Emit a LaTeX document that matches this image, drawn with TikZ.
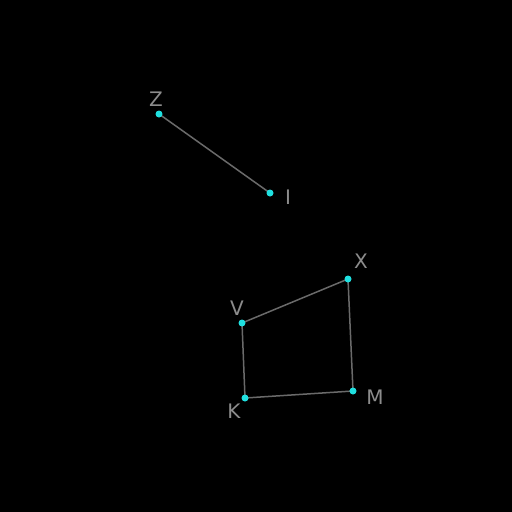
\documentclass[tikz,border=0pt]{standalone}
\usepackage{fontspec}
\setmainfont{DejaVu Sans}
\usepackage{tikz}
\usetikzlibrary{positioning}

\definecolor{edgegray}{HTML}{6A6A6A}
\definecolor{labelgray}{HTML}{8C8C8C}
\definecolor{dotcyan}{HTML}{1FE0E0}

\tikzset{
  edge/.style={draw=edgegray, line width=1.5pt},
  lbl/.style={text=labelgray, font=\fontsize{20}{20}\selectfont, inner sep=0pt}
}

\begin{document}
\begin{tikzpicture}[x=1pt,y=-1pt]
\fill[black] (0,0) rectangle (512,512);
\useasboundingbox (0,0) rectangle (512,512);

\coordinate (Z) at (159,114);
\coordinate (I) at (270,193);
\coordinate (X) at (348,279);
\coordinate (V) at (242,323);
\coordinate (K) at (245,398);
\coordinate (M) at (353,391);

\draw[edge] (Z)--(I);
\draw[edge] (V)--(X);
\draw[edge] (X)--(M);
\draw[edge] (M)--(K);
\draw[edge] (K)--(V);

 \foreach \i in {Z,I,X,V,K,M}
 \fill[dotcyan] (\i) circle (3.5pt);

\node[lbl] (lZ) at (156,99) {Z};
\node[lbl] (lI) at (288,197) {I};
\node[lbl] (lX) at (361,261) {X};
\node[lbl] (lV) at (237,308) {V};
\node[lbl] (lK) at (234,411) {K};
\node[lbl] (lM) at (375,397) {M};
\end{tikzpicture}
\end{document}
